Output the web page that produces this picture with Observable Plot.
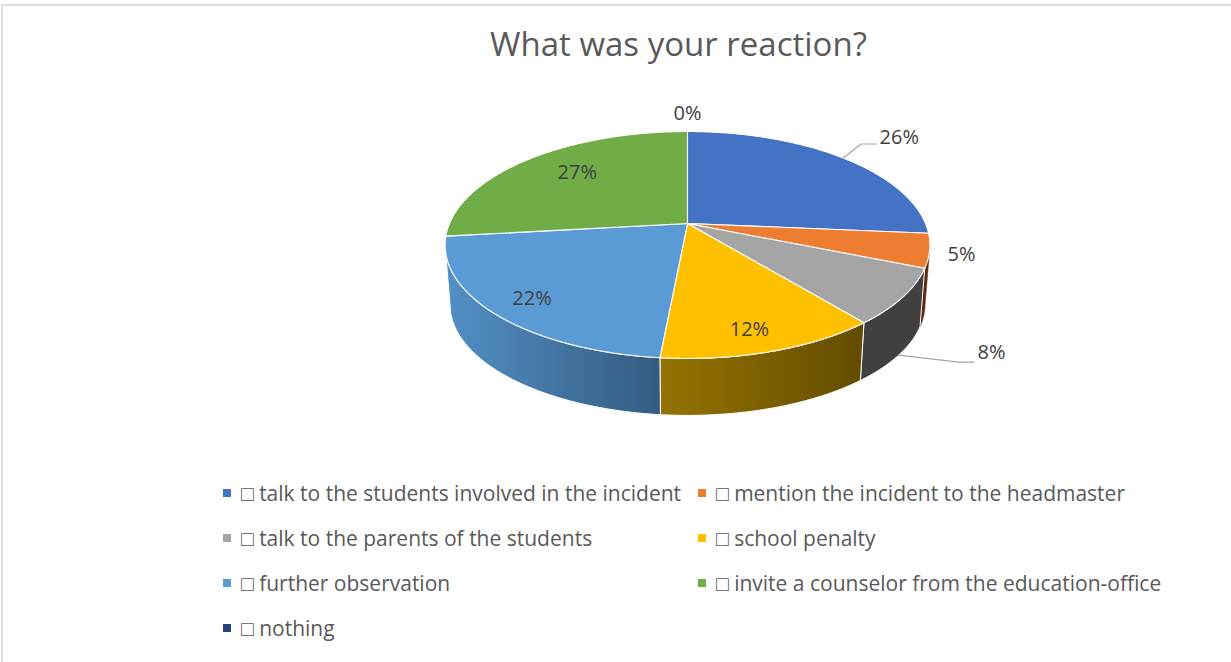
<!DOCTYPE html>
<html><head><meta charset="utf-8">
<script src="https://cdn.jsdelivr.net/npm/d3@7"></script>
<script src="https://cdn.jsdelivr.net/npm/@observablehq/plot@0.6"></script>
<style>
html,body{margin:0;padding:0;background:#fff;overflow:hidden}
#frame{position:relative;box-sizing:border-box;width:1231px;height:658px;margin:4px 0 0 1px;border-top:2px solid #dedede;border-left:2px solid #dedede;font-family:"Open Sans",sans-serif;color:#595959}
#title{position:absolute;left:124px;width:1100px;top:15px;text-align:center;font-size:33px;line-height:46px;margin-left:0}
#title{left:123px;width:1105px}
#chart{position:absolute;left:-3px;top:73px}
#legend{position:absolute;left:0;top:464px;width:100%;height:180px}
.item{position:absolute;font-size:21px;line-height:30px;white-space:nowrap}
.sw{position:absolute;width:8px;height:8px;top:11px;left:-18px}
</style></head><body>
<div id="frame"><div id="title"></div><div id="chart"></div><div id="legend"></div></div>
<script>
const chartTitle = "What was your reaction?";
const categories = ["□ talk to the students involved in the incident","□ mention the incident to the headmaster","□ talk to the parents of the students","□ school penalty","□ further observation","□ invite a counselor from the education-office","□ nothing"];
const shares = [26.4,4.8,7.9,12.4,21.7,26.8,0];
const colors = ["#4472c4","#ed7d31","#a5a5a5","#ffc000","#5b9bd5","#70ad47","#264478"];

// layout (not data)
const W=1231,H=390,top0=79,cx=687,cy=223-top0,ax=238,ay=109.4,k=0.1894;
const wallScale=0.98, wallDrop=0.545;
const proj=(t,r=1)=>{const X=r*Math.sin(t),Y=r*Math.cos(t),d=1+k*Y;return [X/d,Y/d]};
const low=([u,v])=>[u*wallScale,v*wallScale-wallDrop];
const total=d3.sum(shares);
let acc=0;
const slices=shares.map((v,i)=>{const a0=acc/total*2*Math.PI;acc+=v;const a1=acc/total*2*Math.PI;return {i,v,a0,a1,mid:(a0+a1)/2}});
const arc=(a0,a1)=>{const n=Math.max(2,Math.ceil((a1-a0)/0.01));return d3.range(n+1).map(j=>a0+(a1-a0)*j/n)};
const toPts=arr=>arr.map(([x,y])=>({x,y}));
const topPoly=s=>toPts([[0,0],...arc(s.a0,s.a1).map(t=>proj(t)),[0,0]]);
const visA=1.78,visB=4.45;
const wallPoly=s=>{const a=Math.max(s.a0,visA),b=Math.min(s.a1,visB);if(b<=a)return null;const ts=arc(a,b);const t=ts.map(x=>proj(x));const l=ts.map(x=>low(proj(x)));return toPts([...t,...l.reverse(),t[0]])};
const wallFill=["#2a4476","#5e2c0c","#404040","url(#gy)","url(#gb)","#3e6028","#16284a"];
const defs=()=>{const d=d3.create("svg:defs");
 const g=(id,a,b)=>{const lg=d.append("linearGradient").attr("id",id);lg.append("stop").attr("offset",0).attr("stop-color",a);lg.append("stop").attr("offset",1).attr("stop-color",b)};
 g("gy","#957300","#634c00");g("gb","#5390c6","#335b80");return d.node()};
const walls=slices.map((s,i)=>{const p=wallPoly(s);return p?Plot.line(p,{x:"x",y:"y",fill:wallFill[i],stroke:s.i===3||s.i===4||s.i===2?"#fff":wallFill[i],strokeWidth:i===1?0.5:1}):null}).filter(Boolean);
const tops=slices.filter(s=>s.v>0).map(s=>Plot.line(topPoly(s),{x:"x",y:"y",fill:colors[s.i],stroke:"#fff",strokeWidth:1.1,strokeLinejoin:"round"}));
// label placement: radial factor + angle override
const place=[{r:1.39,th:.85},{r:1.125},{r:1.42,th:2.315},{r:.85,th:2.88},{r:.84,th:3.9},{r:.72,th:5.5},{r:1.24}];
const labels=slices.map((s,i)=>{const [x,y]=proj(place[i].th??s.mid,place[i].r);return {x,y,text:Math.round(s.v)+"%"}});
const pxX=p=>p/ax,pxY=p=>p/ay;
const l0=labels[0],l2=labels[2];
const lead0=toPts([proj(slices[0].mid),[l0.x-pxX(38),l0.y-pxY(6)],[l0.x-pxX(23),l0.y-pxY(6)]]);
const lead2=toPts([low(proj(slices[2].mid)),[l2.x-pxX(33),l2.y-pxY(10)],[l2.x-pxX(18),l2.y-pxY(10)]]);

const plot=Plot.plot({width:W,height:H,margin:0,
 x:{type:"linear",domain:[-1,1],range:[cx-ax,cx+ax],axis:null},
 y:{type:"linear",domain:[-1,1],range:[cy+ay,cy-ay],axis:null},
 marks:[defs,...walls,...tops,
  Plot.line(lead0,{x:"x",y:"y",stroke:"#a6a6a6",strokeWidth:1.2}),
  Plot.line(lead2,{x:"x",y:"y",stroke:"#a6a6a6",strokeWidth:1.2}),
  Plot.text(labels,{x:"x",y:"y",text:"text",fontSize:20,fill:"#404040",fontFamily:"Open Sans"})
 ]});
plot.style.overflow="visible";
document.getElementById("chart").appendChild(plot);
document.getElementById("title").textContent=chartTitle;
const leg=document.getElementById("legend");
const colX=[238,713],rowY=[0,45,90,135];
categories.forEach((c,i)=>{const e=document.createElement("div");e.className="item";e.style.left=colX[i%2]+"px";e.style.top=rowY[Math.floor(i/2)]+8+"px";
 const s=document.createElement("div");s.className="sw";s.style.background=colors[i];e.appendChild(s);e.appendChild(document.createTextNode(c));leg.appendChild(e)});
</script></body></html>
